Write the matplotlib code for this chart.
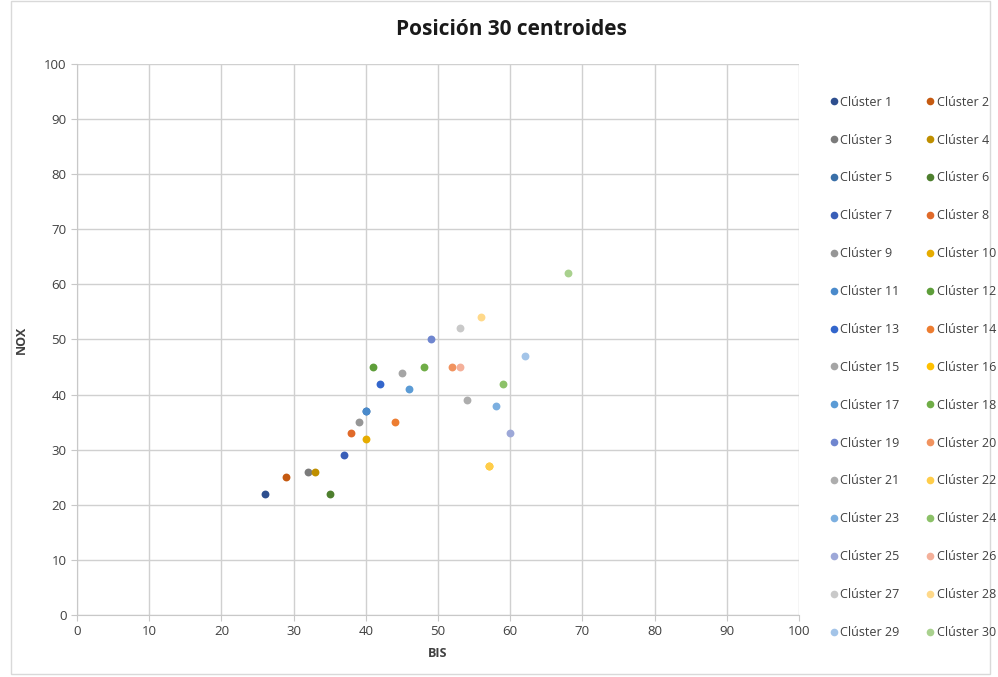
import matplotlib.pyplot as plt
from matplotlib.lines import Line2D
from matplotlib.patches import Rectangle

plt.rcParams["font.family"] = ["Open Sans", "DejaVu Sans"]

# centroid positions (BIS, NOX)
clusters = [f"Clúster {i}" for i in range(1, 31)]
bis = [26, 29, 32, 33, 40, 35, 37, 38, 39, 40,
       40, 41, 42, 44, 45, 57, 46, 48, 49, 52,
       54, 57, 58, 59, 60, 53, 53, 56, 62, 68]
nox = [22, 25, 26, 26, 37, 22, 29, 33, 35, 32,
       37, 45, 42, 35, 44, 27, 41, 45, 50, 45,
       39, 27, 38, 42, 33, 45, 52, 54, 47, 62]
colors = [
    "#2E4F8F", "#C55A11", "#7B7B7B", "#BF8F00", "#3A6FA8", "#4E7F2E",
    "#3A5FB8", "#E06A2A", "#969696", "#E6AC00", "#4A8ACB", "#5E9E3A",
    "#3366CC", "#ED7D31", "#A5A5A5", "#FFC000", "#5B9BD5", "#70AD47",
    "#6F86CF", "#F1935F", "#ADADAD", "#FFCD4A", "#7CAFE0", "#8CC168",
    "#9DA8D8", "#F4B09A", "#C9C9C9", "#FFD98A", "#A3C4E8", "#A9D18E",
]

fig = plt.figure(figsize=(9.98, 6.77), dpi=100)
ax = fig.add_axes([0.0772, 0.0916, 0.7234, 0.8139])

for name, x, y, c in zip(clusters, bis, nox, colors):
    ax.scatter(x, y, s=32, color=c, label=name, zorder=3, linewidths=0)

ax.set_xlim(0, 100)
ax.set_ylim(0, 100)
ax.set_xticks(range(0, 101, 10))
ax.set_yticks(range(0, 101, 10))
ax.grid(True, color="#D0D0D0", linewidth=1)
ax.set_axisbelow(True)
for side in ["top", "right"]:
    ax.spines[side].set_visible(False)
for side in ["left", "bottom"]:
    ax.spines[side].set_color("#C8C8C8")
ax.tick_params(colors="#C8C8C8", labelcolor="#404040", labelsize=9.5, length=4)

ax.set_xlabel("BIS", fontsize=9, fontweight="bold", color="#404040", labelpad=6)
ax.set_ylabel("NOX", fontsize=9, fontweight="bold", color="#404040", labelpad=12)
fig.suptitle("Posición 30 centroides", x=0.512, y=0.972, fontsize=15,
             fontweight="bold", color="#1a1a1a")

# legend: two columns, odd clusters left, even clusters right
handles = [Line2D([], [], marker="o", linestyle="", markersize=5.5,
                  markerfacecolor=c, markeredgewidth=0) for c in colors]
order = list(range(0, 30, 2)) + list(range(1, 30, 2))
leg = fig.legend([handles[i] for i in order], [clusters[i] for i in order],
                 loc="upper left", bbox_to_anchor=(0.824, 0.866), ncol=2,
                 frameon=False, fontsize=9, labelspacing=1.99,
                 handletextpad=0.05, handlelength=1.0, columnspacing=1.9,
                 borderaxespad=0)
for t in leg.get_texts():
    t.set_color("#404040")

fig.patches.append(Rectangle((0.011, 0.004), 0.981, 0.994, transform=fig.transFigure,
                             fill=False, edgecolor="#D9D9D9", linewidth=1))

fig.savefig("out.png", dpi=100)
